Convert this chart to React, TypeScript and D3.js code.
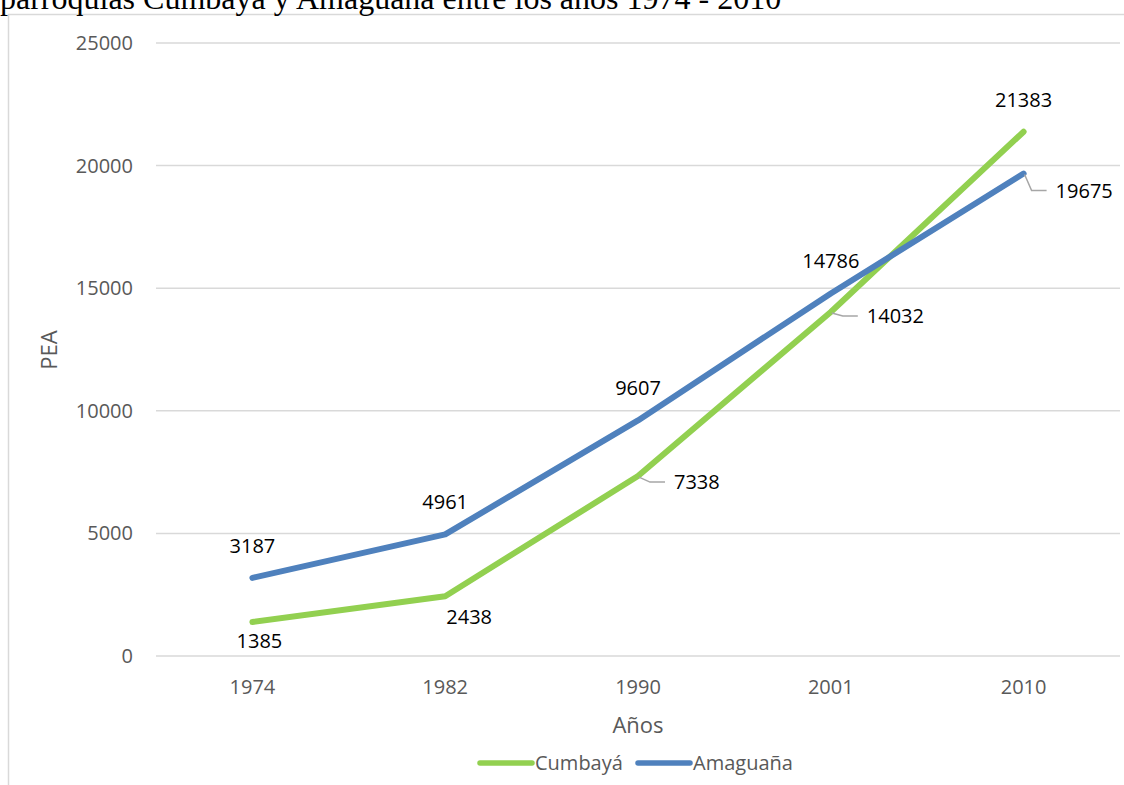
import React, { useEffect, useRef } from 'react';
import * as d3 from 'd3';

const years = ['1974', '1982', '1990', '2001', '2010'];
const cumbaya = [1385, 2438, 7338, 14032, 21383];
const amaguana = [3187, 4961, 9607, 14786, 19675];
const yTicks = [0, 5000, 10000, 15000, 20000, 25000];
// where each data label sits relative to its point
const cumbayaLabelPos = ['below', 'belowRight', 'leader', 'leader', 'above'];
const amaguanaLabelPos = ['above', 'above', 'above', 'above', 'leader'];

const W = 1124;
const H = 785;
const FONT = '"Open Sans", "Noto Sans", sans-serif';

const App: React.FC = () => {
  const ref = useRef<SVGSVGElement>(null);

  useEffect(() => {
    const svg = d3.select(ref.current);
    svg.selectAll('*').remove();

    const left = 156, right = 1120, top = 43, bottom = 656;
    const x = d3.scaleBand().domain(years).range([left, right]).padding(0);
    const y = d3.scaleLinear().domain([0, 25000]).range([bottom, top]);
    const cx = (d: string) => (x(d) as number) + x.bandwidth() / 2;

    // frame
    svg.append('rect').attr('width', W).attr('height', H).attr('fill', '#fff');
    svg.append('path')
      .attr('d', `M8.5,${H} V14.5 H${W}`)
      .attr('fill', 'none').attr('stroke', '#d9d9d9').attr('stroke-width', 1.5);

    // title (cut off at top, as in the source document)
    svg.append('text')
      .attr('x', 0).attr('y', 9)
      .attr('font-family', '"Liberation Serif", "Times New Roman", serif')
      .attr('font-size', 32).attr('fill', '#000')
      .text('parroquias Cumbayá y Amaguaña entre los años 1974 - 2010');

    // gridlines + y ticks
    const yg = svg.append('g');
    yg.selectAll('line').data(yTicks).enter().append('line')
      .attr('x1', left).attr('x2', right)
      .attr('y1', d => y(d)).attr('y2', d => y(d))
      .attr('stroke', '#d9d9d9').attr('stroke-width', 1.5);
    yg.selectAll('text').data(yTicks).enter().append('text')
      .attr('x', 133).attr('y', d => y(d))
      .attr('dy', '0.35em').attr('text-anchor', 'end')
      .attr('font-family', FONT).attr('font-size', 20).attr('fill', '#595959')
      .text(d => String(d));

    // x ticks
    svg.append('g').selectAll('text').data(years).enter().append('text')
      .attr('x', d => cx(d)).attr('y', 694)
      .attr('text-anchor', 'middle')
      .attr('font-family', FONT).attr('font-size', 20).attr('fill', '#595959')
      .text(d => d);

    // axis titles
    svg.append('text')
      .attr('x', 638).attr('y', 733).attr('text-anchor', 'middle')
      .attr('font-family', FONT).attr('font-size', 22).attr('fill', '#595959')
      .text('Años');
    svg.append('text')
      .attr('transform', 'translate(57,350) rotate(-90)')
      .attr('text-anchor', 'middle')
      .attr('font-family', FONT).attr('font-size', 22).attr('fill', '#595959')
      .text('PEA');

    const series = [
      { name: 'Cumbayá', values: cumbaya, color: '#92d050', pos: cumbayaLabelPos },
      { name: 'Amaguaña', values: amaguana, color: '#4f81bd', pos: amaguanaLabelPos },
    ];

    const line = d3.line<number>()
      .x((_, i) => cx(years[i]))
      .y(d => y(d));

    series.forEach(s => {
      svg.append('path')
        .datum(s.values)
        .attr('d', line)
        .attr('fill', 'none')
        .attr('stroke', s.color)
        .attr('stroke-width', 6)
        .attr('stroke-linecap', 'round')
        .attr('stroke-linejoin', 'round');
    });

    // data labels
    series.forEach(s => {
      s.values.forEach((v, i) => {
        const px = cx(years[i]);
        const py = y(v);
        const pos = s.pos[i];
        let lx = px, ly = py - 32, anchor = 'middle';
        if (pos === 'below') { lx = px + 7; ly = py + 19; }
        if (pos === 'belowRight') { lx = px + 24; ly = py + 21; }
        if (pos === 'leader') {
          const dy = v === 19675 ? 17 : v === 14032 ? 4 : 6;
          const x0 = px + (v === 19675 ? 2 : 6);
          const y1 = py + dy;
          svg.append('path')
            .attr('d', `M${px + 1},${py + 1} L${x0 + 6},${y1} H${x0 + 21}`)
            .attr('fill', 'none').attr('stroke', '#a6a6a6').attr('stroke-width', 1.5);
          lx = x0 + 30; ly = y1; anchor = 'start';
        }
        svg.append('text')
          .attr('x', lx).attr('y', ly).attr('dy', '0.35em')
          .attr('text-anchor', anchor)
          .attr('font-family', FONT).attr('font-size', 20).attr('fill', '#000')
          .text(String(v));
      });
    });

    // legend
    const lg = svg.append('g').attr('font-family', FONT).attr('font-size', 20).attr('fill', '#595959');
    const legendX = [480, 638];
    series.forEach((s, i) => {
      lg.append('line')
        .attr('x1', legendX[i]).attr('x2', legendX[i] + 52)
        .attr('y1', 763).attr('y2', 763)
        .attr('stroke', s.color).attr('stroke-width', 5.5).attr('stroke-linecap', 'round');
      lg.append('text')
        .attr('x', legendX[i] + 55).attr('y', 763).attr('dy', '0.35em')
        .text(s.name);
    });
  }, []);

  return (
    <svg ref={ref} width={W} height={H} style={{ position: 'absolute', left: 0, top: 0 }} />
  );
};

export default App;
